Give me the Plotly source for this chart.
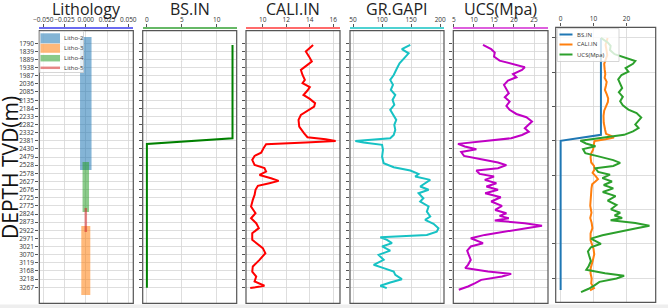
import plotly.graph_objects as go

W, H = 668, 308

# ---------------- data ----------------
depth_tick_values = [1790, 1839, 1889, 1938, 1987, 2036, 2085, 2135, 2184, 2233, 2282,
                     2332, 2381, 2430, 2479, 2528, 2578, 2627, 2676, 2725, 2775, 2824,
                     2873, 2922, 2971, 3021, 3070, 3119, 3168, 3218, 3267]
depth_tick_labels = ["1790", "1839", "1889", "1938", "1987", "2036", "2085", "2135", "2184",
                     "2233", "2282", "2332", "2381", "2430", "2479", "2528", "2578", "2627",
                     "2676", "2725", "2775", "2824", "2873", "2922", "2971", "3021", "3070",
                     "3119", "3168", "3218", "3267"]

litho_names = ["Litho-2", "Litho-3", "Litho-4", "Litho-5"]
litho_top = [1752, 2896, 2508, 2787]
litho_base = [2557, 3314, 2811, 2932]
litho_track_x = 0.0

bs_depth = [1800, 2365, 2400, 3270]
bs_value = [12.25, 12.25, 0.0, 0.0]

cali_depth = [1800, 1820, 1840, 1871, 1901, 1921, 1951, 1982, 2012, 2032, 2056, 2076, 2103,
              2127, 2153, 2173, 2199, 2224, 2254, 2294, 2335, 2359, 2371, 2381, 2391, 2401,
              2425, 2452, 2472, 2496, 2526, 2546, 2567, 2587, 2607, 2623, 2637, 2653, 2677,
              2708, 2738, 2778, 2819, 2849, 2879, 2909, 2940, 2980, 3030, 3061, 3101, 3141,
              3172, 3202, 3232, 3258, 3272]
cali_value = [14.28, 14.0, 13.66, 13.94, 14.17, 13.8, 13.24, 13.38, 13.58, 13.38, 14.0, 13.8,
              13.46, 14.0, 14.45, 14.37, 13.8, 13.24, 13.04, 13.1, 13.52, 13.8, 15.35, 16.2,
              13.66, 10.28, 10.06, 9.86, 9.3, 9.1, 9.3, 10.14, 10.28, 9.72, 10.7, 11.35, 10.56,
              9.58, 9.38, 9.3, 9.15, 9.0, 9.38, 9.0, 9.44, 9.66, 9.1, 9.1, 10.0, 10.22, 9.72,
              9.15, 9.1, 9.44, 9.3, 10.14, 8.93]

gr_depth = [1800, 1826, 1851, 1881, 1911, 1941, 1982, 2012, 2042, 2072, 2103, 2133, 2163,
            2193, 2224, 2254, 2284, 2314, 2345, 2365, 2381, 2391, 2405, 2435, 2476, 2516,
            2540, 2560, 2581, 2597, 2617, 2637, 2657, 2677, 2698, 2728, 2748, 2778, 2809,
            2839, 2859, 2883, 2909, 2930, 2950, 2964, 2980, 3000, 3020, 3045, 3071, 3101,
            3131, 3151, 3172, 3192, 3218, 3238, 3258, 3272]
gr_value = [148.5, 134, 145.6, 137, 130, 125.6, 120, 114, 118.7, 115, 122.7, 118, 121, 114,
            118.7, 124.4, 121, 122.7, 120, 114, 54, 68, 100, 101.5, 100, 102.7, 120, 148.5,
            162.8, 157, 182.8, 174, 165.6, 180, 162.8, 171, 165.6, 180, 177, 182.8, 174,
            188.5, 197, 194, 177, 97, 108.4, 117, 100, 114, 94, 102.7, 85.5, 102.7, 120,
            122.7, 134, 114, 97, 108]

ucs_depth = [1800, 1826, 1846, 1871, 1895, 1915, 1935, 1951, 1976, 1996, 2016, 2042, 2068,
             2093, 2117, 2143, 2169, 2193, 2218, 2238, 2264, 2284, 2304, 2325, 2345, 2365,
             2385, 2399, 2415, 2431, 2448, 2472, 2492, 2512, 2528, 2546, 2560, 2581, 2597,
             2617, 2637, 2657, 2677, 2698, 2722, 2748, 2774, 2799, 2819, 2835, 2849, 2863,
             2879, 2895, 2911, 2930, 2950, 2970, 2984, 3000, 3020, 3045, 3071, 3101, 3131,
             3151, 3172, 3186, 3202, 3222, 3242, 3262, 3282]
ucs_value = [12.25, 14.3, 15.2, 15.0, 16.4, 19.75, 22.7, 22.0, 19.75, 20.6, 18.5, 17.5, 18.1,
             18.7, 17.7, 18.9, 18.1, 18.9, 20.6, 23.1, 24.5, 23.5, 22.7, 23.7, 22.0, 19.3,
             11.8, 6.0, 7.7, 10.6, 6.8, 7.5, 11.8, 16.0, 18.1, 16.0, 10.6, 11.4, 15.0, 12.7,
             15.6, 13.1, 16.0, 12.8, 16.7, 14.3, 17.0, 15.3, 18.1, 16.4, 18.7, 15.2, 22.7,
             27.0, 22.7, 17.7, 12.7, 9.2, 10.6, 12.25, 9.2, 8.3, 8.7, 9.2, 8.5, 7.8, 13.5,
             19.3, 17.0, 11.8, 10.3, 8.5, 6.2]

track_titles = ["Lithology", "BS.IN", "CALI.IN", "GR.GAPI", "UCS(Mpa)"]
combo_names = ["BS.IN", "CALI.IN", "UCS(Mpa)"]

# ---------------- styles / layout helpers ----------------
def fx(px):
    return px / W

def fy(py):
    return 1 - py / H

FONT = "Open Sans, DejaVu Sans, sans-serif"
TICKFONT = "Liberation Sans Narrow, Arial Narrow, Open Sans, sans-serif"
GRID = "#d6d6d6"
FRAME = "#555555"

panel_px = [(39.3, 133.3), (142.7, 236.7), (246, 340), (350, 444), (453.3, 548), (555.7, 655.7)]
track_top_px, track_bot_px, track_line_px = 30.7, 303.3, 27.3
combo_top_px, combo_bot_px = 27.3, 302.3

litho_colors = ["#1f77b4", "#ff7f0e", "#2ca02c", "#d62728"]
litho_widths = [11.5, 9, 6.5, 2.5]
axis_line_colors = ["#6b6bf0", "#66b866", "#ff6b6b", "#4fd2d2", "#dd5fdd"]
x_ranges = [[-0.0547, 0.0559], [-0.6, 12.85], [8.57, 16.57], [44.8, 206.5], [4.83, 28.5]]
x_ticks = [[-0.05, -0.025, 0.0, 0.025, 0.05], [0, 5, 10], [10, 12, 14, 16],
           [50, 100, 150, 200], [5, 10, 15, 20, 25]]
combo_colors = ["#1f77b4", "#ff7f0e", "#2ca02c"]

fig = go.Figure()

# Lithology track
for name, top, base, col, w in zip(litho_names, litho_top, litho_base, litho_colors, litho_widths):
    fig.add_trace(go.Scatter(x=[litho_track_x, litho_track_x], y=[top, base], mode="lines",
                             name=name, line=dict(color=col, width=w), opacity=0.55,
                             xaxis="x", yaxis="y", showlegend=False))

fig.add_trace(go.Scatter(x=bs_value, y=bs_depth, mode="lines", line=dict(color="#008000", width=2),
                         xaxis="x2", yaxis="y2", showlegend=False))
fig.add_trace(go.Scatter(x=cali_value, y=cali_depth, mode="lines", line=dict(color="#ff0000", width=2),
                         xaxis="x3", yaxis="y3", showlegend=False))
fig.add_trace(go.Scatter(x=gr_value, y=gr_depth, mode="lines", line=dict(color="#17c2c4", width=2),
                         xaxis="x4", yaxis="y4", showlegend=False))
fig.add_trace(go.Scatter(x=ucs_value, y=ucs_depth, mode="lines", line=dict(color="#c000c4", width=2),
                         xaxis="x5", yaxis="y5", showlegend=False))

# Combined track
for (xs, ys), name, col in zip([(bs_value, bs_depth), (cali_value, cali_depth), (ucs_value, ucs_depth)],
                               combo_names, combo_colors):
    fig.add_trace(go.Scatter(x=xs, y=ys, mode="lines", name=name, line=dict(color=col, width=2),
                             xaxis="x6", yaxis="y6", showlegend=False))

layout = dict(width=W, height=H, margin=dict(l=0, r=0, t=0, b=0, pad=0), template="none",
              paper_bgcolor="white", plot_bgcolor="white", showlegend=False,
              font=dict(family=FONT, size=6, color="#333"))

tickfont = dict(size=6.5, family=TICKFONT, color="#333")
track_ydom = [fy(track_bot_px), fy(track_top_px)]
for i in range(5):
    k = "" if i == 0 else str(i + 1)
    x0, x1 = panel_px[i]
    xa = dict(domain=[fx(x0), fx(x1)], range=x_ranges[i], anchor="free",
              position=fy(track_line_px), side="top", showline=True, automargin=False,
              linecolor=axis_line_colors[i], linewidth=1.3, ticks="outside", ticklen=3,
              tickcolor="#555", tickvals=x_ticks[i], showgrid=True, gridcolor=GRID,
              gridwidth=0.8, zeroline=False, tickangle=0, tickfont=tickfont)
    if i == 0:
        xa["tickformat"] = ".3f"
    ya = dict(domain=track_ydom, range=[3364, 1714], anchor="x" + k, tickvals=depth_tick_values,
              ticktext=depth_tick_labels, showticklabels=(i == 0), ticks="outside", ticklen=3,
              tickcolor="#555", showgrid=True, gridcolor=GRID, gridwidth=0.8, zeroline=False,
              showline=False, automargin=False, tickfont=tickfont)
    layout["xaxis" + k] = xa
    layout["yaxis" + k] = ya

x0, x1 = panel_px[5]
layout["xaxis6"] = dict(domain=[fx(x0), fx(x1)], range=[-1.5, 28.9], anchor="y6", side="top",
                        ticks="outside", ticklen=3, tickcolor="#555", tickvals=[0, 10, 20],
                        showgrid=True, gridcolor=GRID, gridwidth=0.8, zeroline=False,
                        showline=False, automargin=False, tickangle=0, tickfont=tickfont)
layout["yaxis6"] = dict(domain=[fy(combo_bot_px), fy(combo_top_px)], range=[3341, 1738], anchor="x6",
                        tickvals=[1800, 2000, 2200, 2400, 2600, 2800, 3000, 3200],
                        showticklabels=False, ticks="outside", ticklen=3, tickcolor="#555",
                        showgrid=True, gridcolor=GRID, gridwidth=0.8, zeroline=False,
                        automargin=False)

shapes = []
# faint bottom band of the screenshot
shapes.append(dict(type="rect", xref="paper", yref="paper", x0=0, x1=1, y0=0, y1=fy(304.5),
                   fillcolor="#eeeeee", line=dict(width=0), layer="below"))
# frames
for i in range(6):
    k = "" if i == 0 else str(i + 1)
    shapes.append(dict(type="rect", xref="x" + k + " domain", yref="y" + k + " domain",
                       x0=0, x1=1, y0=0, y1=1, line=dict(color=FRAME, width=1.2), layer="above"))

annotations = []
for i, t in enumerate(track_titles):
    x0, x1 = panel_px[i]
    annotations.append(dict(text=t, x=fx((x0 + x1) / 2), y=fy(9), xref="paper", yref="paper",
                            showarrow=False, xanchor="center", yanchor="middle",
                            font=dict(family=FONT, size=16, color="#222")))
annotations.append(dict(text="DEPTH TVD(m)", x=fx(10), y=fy(168), xref="paper", yref="paper",
                        textangle=-90, showarrow=False, xanchor="center", yanchor="middle",
                        font=dict(family=FONT, size=21, color="#111")))

# legend of the lithology track
shapes.append(dict(type="rect", xref="paper", yref="paper", x0=fx(39.8), x1=fx(83.5),
                   y0=fy(72.5), y1=fy(31.3), fillcolor="rgba(255,255,255,0.8)",
                   line=dict(color="#cccccc", width=0.8), layer="above"))
leg_y = [38.3, 48.3, 58.2, 67.8]
for name, col, w, yy in zip(litho_names, litho_colors, litho_widths, leg_y):
    shapes.append(dict(type="line", xref="paper", yref="paper", x0=fx(40.5), x1=fx(60),
                       y0=fy(yy), y1=fy(yy), line=dict(color=col, width=min(w, 10)),
                       opacity=0.55, layer="above"))
    annotations.append(dict(text=name, x=fx(61.5), y=fy(yy), xref="paper", yref="paper",
                            showarrow=False, xanchor="left", yanchor="middle",
                            font=dict(family=FONT, size=6, color="#333")))

# legend of the combined track
shapes.append(dict(type="rect", xref="paper", yref="paper", x0=fx(557.2), x1=fx(619),
                   y0=fy(61.5), y1=fy(28.6), fillcolor="rgba(255,255,255,0.8)",
                   line=dict(color="#cccccc", width=0.8), layer="above"))
leg_y2 = [34.5, 44.5, 54.5]
for name, col, yy in zip(combo_names, combo_colors, leg_y2):
    shapes.append(dict(type="line", xref="paper", yref="paper", x0=fx(559.5), x1=fx(572.5),
                       y0=fy(yy), y1=fy(yy), line=dict(color=col, width=2), layer="above"))
    annotations.append(dict(text=name, x=fx(575), y=fy(yy), xref="paper", yref="paper",
                            showarrow=False, xanchor="left", yanchor="middle",
                            font=dict(family=FONT, size=6, color="#333")))

layout["shapes"] = shapes
layout["annotations"] = annotations
fig.update_layout(**layout)

fig.write_html("out.html", config={"displayModeBar": False, "staticPlot": True},
               post_script="document.body.style.margin='0';")
